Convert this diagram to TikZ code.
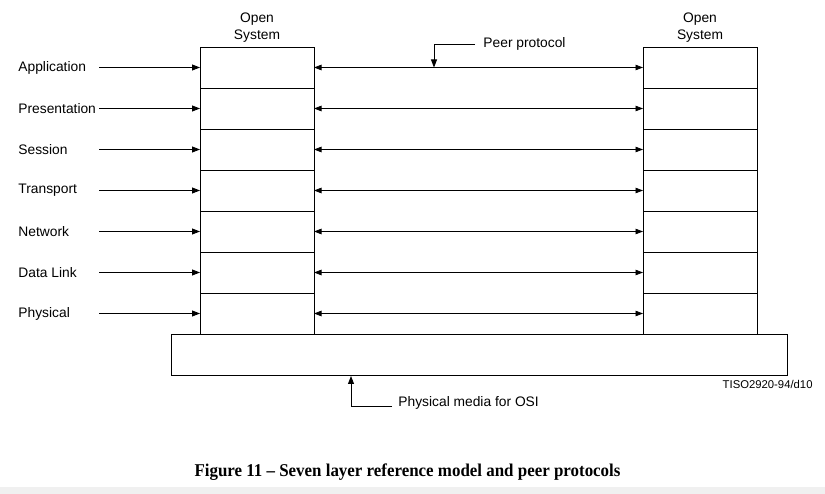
\documentclass[tikz,border=0pt]{standalone}
\usepackage{fontspec}
\setmainfont{Liberation Serif}
\newfontfamily\arialf{Liberation Sans}
\usetikzlibrary{arrows.meta}
\begin{document}
\begin{tikzpicture}[x=1pt,y=-1pt,
  line width=0.9pt,
  tip/.style={-{Triangle[length=8pt,width=6pt]}},
  dtip/.style={{Triangle[length=7.5pt,width=5.5pt]}-{Triangle[length=7.5pt,width=5.5pt]}},
  cell/.style={draw,minimum width=114pt,minimum height=41pt,inner sep=0pt,outer sep=0pt},
  lab/.style={font=\arialf\fontsize{13.8}{16}\selectfont,inner sep=0pt,anchor=west},
  ttl/.style={font=\arialf\fontsize{13.8}{17}\selectfont,align=center,inner sep=0pt},
  basebox/.style={draw,minimum width=616pt,minimum height=41pt,inner sep=0pt,outer sep=0pt}]
\useasboundingbox (0,0) rectangle (825,494);
\fill[black!6] (0,487) rectangle (825,494);
% base
\node[basebox] (base) at (479,354.5) {};
% cells
\foreach \i/\t in {1/Application,2/Presentation,3/Session,4/Transport,5/Network,6/Data Link,7/Physical}{
  \pgfmathsetmacro{\yy}{67.5+41*(\i-1)}
  \node[cell] (L\i) at (257,\yy) {};
  \node[cell] (R\i) at (700,\yy) {};
  \node[lab] (T\i) at (18,\yy) {\t};
  \coordinate (S\i) at (99,\yy);
  \draw[tip] (S\i) -- (L\i.west);
  \draw[dtip] (L\i.east) -- (R\i.west);
}
% titles
\node[ttl] (os1) at (257,27.5) {Open\\System};
\node[ttl] (os2) at (700,27.5) {Open\\System};
% peer protocol
\node[lab] (peer) at (483,44) {Peer protocol};
\coordinate (ppt) at (434,67.5);
\draw[tip] ([xshift=-8pt]peer.west) -| (ppt);
% physical media
\node[lab] (media) at (398,403) {Physical media for OSI};
\coordinate (pmt) at (351,376);
\draw[tip] ([xshift=-6pt,yshift=-3pt]media.west) -| (pmt);
% ref code
\node[font=\arialf\fontsize{11.3}{13}\selectfont,inner sep=0pt,anchor=east] (code) at (813,384) {TISO2920-94/d10};
% caption
\node[inner sep=0pt] (cap) at (407.5,472) {\scalebox{0.94}[1]{\fontsize{18}{20}\selectfont\bfseries Figure 11 -- Seven layer reference model and peer protocols}};
\end{tikzpicture}
\end{document}
